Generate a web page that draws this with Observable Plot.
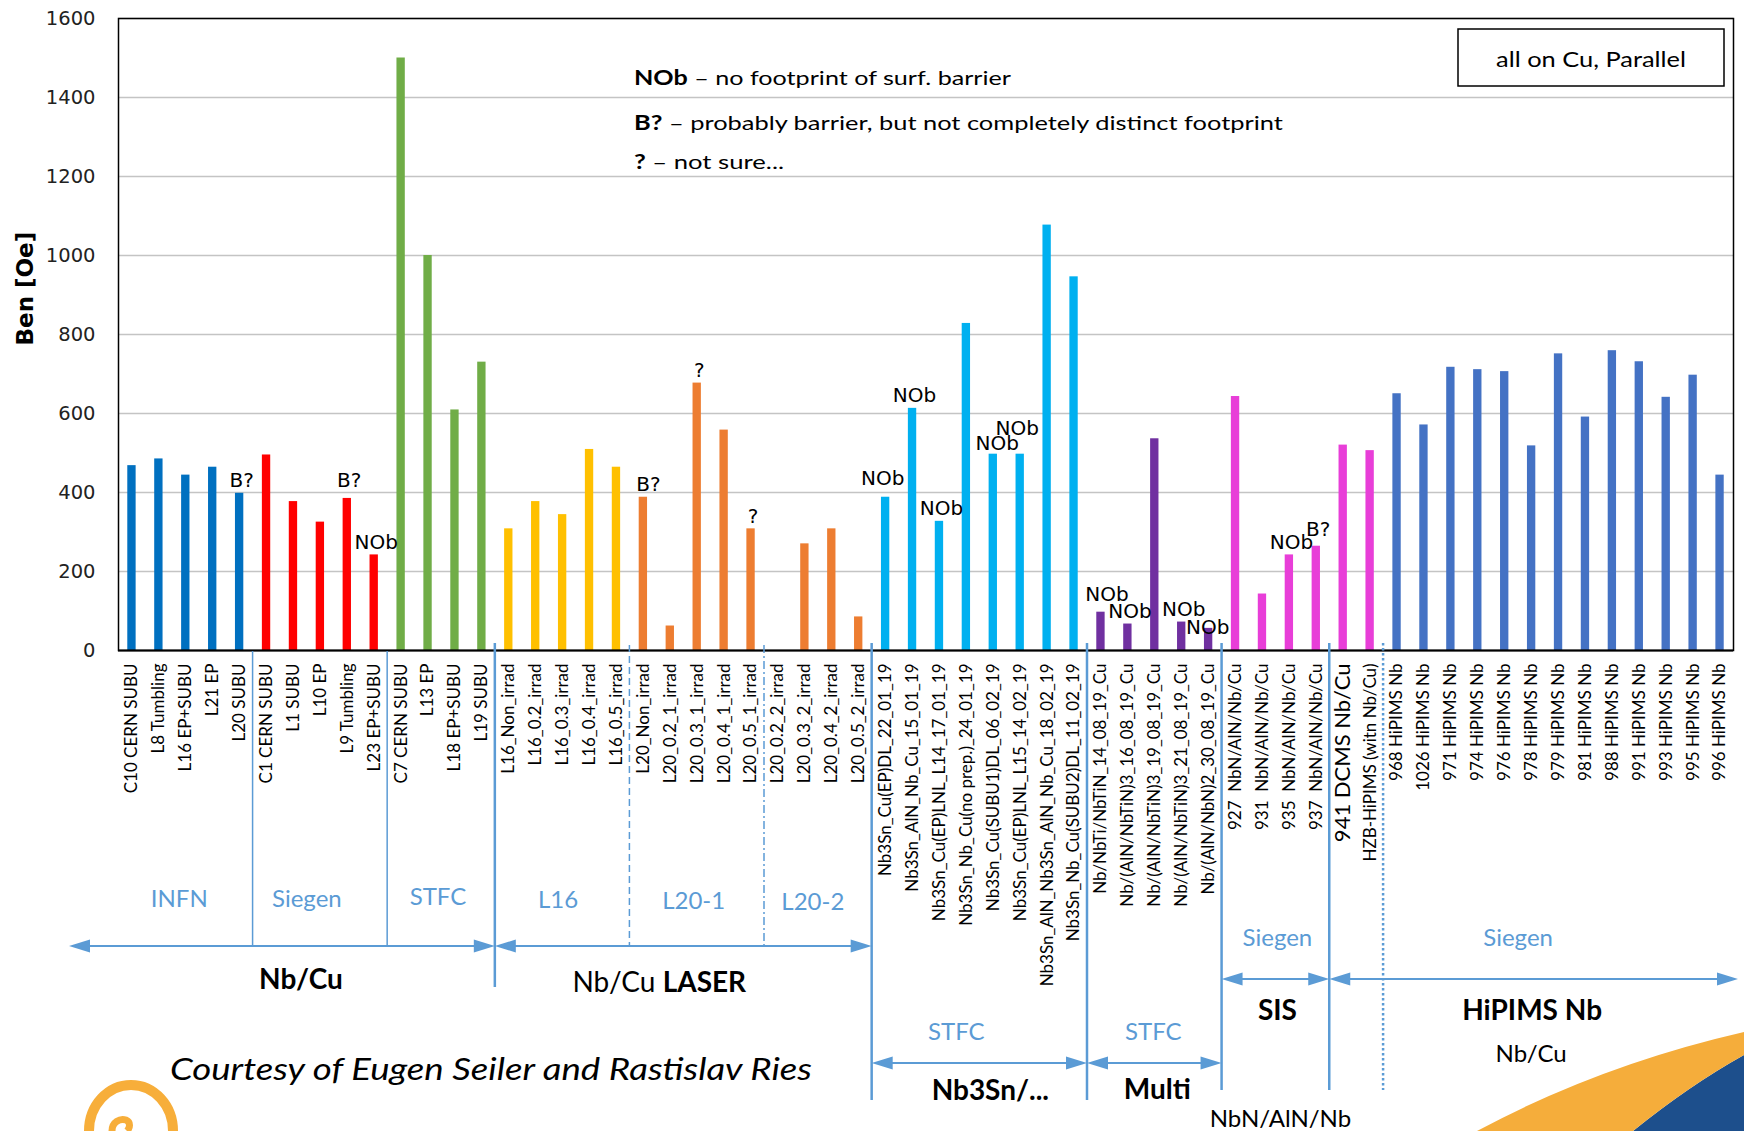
<!DOCTYPE html>
<html>
<head>
<meta charset="utf-8">
<script src="https://cdn.jsdelivr.net/npm/d3@7"></script>
<script src="https://cdn.jsdelivr.net/npm/@observablehq/plot@0.6"></script>
<style>
  html, body { margin: 0; padding: 0; background: #fff; }
  #chart svg { display: block; }
  #chart svg text { white-space: pre; }
</style>
</head>
<body>
<div id="chart"></div>
<script>
// Entry field Ben [Oe] of each sample, all on Cu, parallel field
const infnSamples = ["C10 CERN SUBU", "L8 Tumbling", "L16 EP+SUBU", "L21 EP", "L20 SUBU"];
const infnBen = [468, 485, 444, 464, 398];

const siegenSamples = ["C1 CERN SUBU", "L1 SUBU", "L10 EP", "L9 Tumbling", "L23 EP+SUBU"];
const siegenBen = [495, 377, 325, 385, 242];

const stfcSamples = ["C7 CERN SUBU", "L13 EP", "L18 EP+SUBU", "L19 SUBU"];
const stfcBen = [1500, 1000, 609, 730];

const l16Samples = ["L16_Non_irrad", "L16_0.2_irrad", "L16_0.3_irrad", "L16_0.4_irrad", "L16_0.5_irrad"];
const l16Ben = [308, 377, 344, 509, 464];

const l20aSamples = ["L20_Non_irrad", "L20_0.2_1_irrad", "L20_0.3_1_irrad", "L20_0.4_1_irrad", "L20_0.5_1_irrad"];
const l20aBen = [388, 62, 677, 558, 308];

const l20bSamples = ["L20_0.2_2_irrad", "L20_0.3_2_irrad", "L20_0.4_2_irrad", "L20_0.5_2_irrad"];
const l20bBen = [null, 270, 308, 85];

const nb3snSamples = ["Nb3Sn_Cu(EP)DL_22_01_19", "Nb3Sn_AlN_Nb_Cu_15_01_19", "Nb3Sn_Cu(EP)LNL_L14_17_01_19",
  "Nb3Sn_Nb_Cu(no prep.)_24_01_19", "Nb3Sn_Cu(SUBU1)DL_06_02_19", "Nb3Sn_Cu(EP)LNL_L15_14_02_19",
  "Nb3Sn_AlN_Nb3Sn_AlN_Nb_Cu_18_02_19", "Nb3Sn_Nb_Cu(SUBU2)DL_11_02_19"];
const nb3snBen = [388, 613, 327, 828, 497, 497, 1077, 946];

const multiSamples = ["Nb/NbTi/NbTiN_14_08_19_Cu", "Nb/(AlN/NbTiN)3_16_08_19_Cu", "Nb/(AlN/NbTiN)3_19_08_19_Cu",
  "Nb/(AlN/NbTiN)3_21_08_19_Cu", "Nb/(AlN/NbN)2_30_08_19_Cu"];
const multiBen = [97, 67, 536, 72, 56];

const sisSamples = ["927  NbN/AlN/Nb/Cu", "931  NbN/AlN/Nb/Cu", "935  NbN/AlN/Nb/Cu", "937  NbN/AlN/Nb/Cu"];
const sisBen = [643, 143, 242, 264];

const singleSamples = ["941 DCMS Nb/Cu", "HZB-HiPIMS (witn Nb/Cu)"];
const singleBen = [520, 506];

const hipimsSamples = ["968 HiPIMS Nb", "1026 HiPIMS Nb", "971 HiPIMS Nb", "974 HiPIMS Nb", "976 HiPIMS Nb",
  "978 HiPIMS Nb", "979 HiPIMS Nb", "981 HiPIMS Nb", "988 HiPIMS Nb", "991 HiPIMS Nb", "993 HiPIMS Nb",
  "995 HiPIMS Nb", "996 HiPIMS Nb"];
const hipimsBen = [650, 571, 717, 711, 706, 518, 751, 591, 759, 731, 641, 697, 444];

const seriesNames  = ["INFN", "Siegen", "STFC", "L16", "L20-1", "L20-2", "Nb3Sn", "Multi", "SIS", "Single", "HiPIMS"];
const seriesColors = ["#0070C0", "#FF0000", "#70AD47", "#FFC000", "#ED7D31", "#ED7D31", "#00B0F0", "#7030A0", "#E83ED8", "#E83ED8", "#4472C4"];

// Footprint remarks
const nobSamples = ["L23 EP+SUBU", "Nb3Sn_Cu(EP)DL_22_01_19", "Nb3Sn_AlN_Nb_Cu_15_01_19", "Nb3Sn_Cu(EP)LNL_L14_17_01_19",
  "Nb3Sn_Cu(SUBU1)DL_06_02_19", "Nb3Sn_Cu(EP)LNL_L15_14_02_19", "Nb/NbTi/NbTiN_14_08_19_Cu",
  "Nb/(AlN/NbTiN)3_16_08_19_Cu", "Nb/(AlN/NbTiN)3_21_08_19_Cu", "Nb/(AlN/NbN)2_30_08_19_Cu", "935  NbN/AlN/Nb/Cu"];
const barrierSamples = ["L20 SUBU", "L9 Tumbling", "L20_Non_irrad", "937  NbN/AlN/Nb/Cu"];
const unsureSamples = ["L20_0.3_1_irrad", "L20_0.5_1_irrad"];

const yTicks = [0, 200, 400, 600, 800, 1000, 1200, 1400, 1600];

// ---- table built from the arrays above
const seriesSamples = [infnSamples, siegenSamples, stfcSamples, l16Samples, l20aSamples, l20bSamples,
  nb3snSamples, multiSamples, sisSamples, singleSamples, hipimsSamples];
const seriesBen = [infnBen, siegenBen, stfcBen, l16Ben, l20aBen, l20bBen,
  nb3snBen, multiBen, sisBen, singleBen, hipimsBen];

const rows = seriesNames.flatMap((name, s) =>
  seriesSamples[s].map((sample, i) => ({sample, ben: seriesBen[s][i], series: name})));
const allSamples = rows.map(d => d.sample);
const benOf = new Map(rows.map(d => [d.sample, d.ben]));

const flagRows = [
  ...nobSamples.map(sample => ({sample, flag: "NOb"})),
  ...barrierSamples.map(sample => ({sample, flag: "B?"})),
  ...unsureSamples.map(sample => ({sample, flag: "?"}))
].map(d => ({...d, ben: benOf.get(d.sample)}));

// small nudges so that neighbouring remarks do not collide
const flagNudge = new Map([
  ["L9 Tumbling", [2, -11]],
  ["L20_Non_irrad", [5, -6]],
  ["Nb3Sn_Cu(EP)DL_22_01_19", [-3, -12]],
  ["Nb3Sn_Cu(SUBU1)DL_06_02_19", [4, -4]],
  ["Nb3Sn_Cu(EP)LNL_L15_14_02_19", [-3, -19]],
  ["Nb/NbTi/NbTiN_14_08_19_Cu", [6, -11]],
  ["Nb/(AlN/NbN)2_30_08_19_Cu", [-1, 6]],
  ["937  NbN/AlN/Nb/Cu", [2, -10]]
]);
const nudgeGroups = d3.groups(flagRows, d => (flagNudge.get(d.sample) ?? [2, -6]).join(","));
const flagMarks = nudgeGroups.map(([key, list]) => {
  const [dx, dy] = key.split(",").map(Number);
  return Plot.text(list, {
    x: "sample", y: "ben", text: "flag", lineAnchor: "bottom", dx, dy,
    fontFamily: "DejaVu Sans, sans-serif", fontSize: 20, fill: "#000"
  });
});

const W = 1744, H = 1131;

const chart = Plot.plot({
  width: W, height: H,
  marginTop: 18, marginBottom: 481, marginLeft: 118, marginRight: 11,
  style: {fontFamily: "Lato, sans-serif", background: "#fff"},
  x: {domain: allSamples, paddingInner: 0.69, paddingOuter: 0.345, round: false, axis: null},
  y: {domain: [0, 1600], axis: null},
  color: {domain: seriesNames, range: seriesColors},
  marks: [
    Plot.ruleY(yTicks.slice(1), {stroke: "#c4c4c4", strokeWidth: 1.5}),
    Plot.text(yTicks, {y: d => d, text: d => String(d), frameAnchor: "left", textAnchor: "end", dx: -23,
      fontFamily: "DejaVu Sans, sans-serif", fontSize: 19.5, fill: "#222"}),
    Plot.barY(rows.filter(d => d.ben != null), {x: "sample", y: "ben", fill: "series"}),
    Plot.frame({stroke: "#000", strokeWidth: 1.5}),
    Plot.ruleY([0], {stroke: "#000", strokeWidth: 2}),
    Plot.text(rows, {x: "sample", text: "sample", frameAnchor: "bottom", rotate: -90, textAnchor: "end",
      lineAnchor: "middle", dy: 13, fill: "#000",
      fontSize: d => d.series === "Single" && d.sample.startsWith("941") ? 22 : 17}),
    ...flagMarks,
    Plot.text(["Ben [Oe]"], {frameAnchor: "left", rotate: -90, dx: -93, dy: 11,
      fontFamily: "DejaVu Sans, sans-serif", fontWeight: "bold", fontSize: 23, fill: "#000"})
  ]
});

document.getElementById("chart").appendChild(chart);

// ---- group brackets, separators and notes, placed from the x scale
const sx = chart.scale("x");
const step = sx.apply(allSamples[1]) - sx.apply(allSamples[0]);
const bw = sx.bandwidth ?? step * 0.31;
const gap = (step - bw) / 2;
const firstIdx = name => rows.findIndex(d => d.series === name);
const lastIdx = name => rows.length - 1 - [...rows].reverse().findIndex(d => d.series === name);
const edgeBefore = name => sx.apply(allSamples[firstIdx(name)]) - gap;
const edgeAfter = name => sx.apply(allSamples[lastIdx(name)]) + bw + gap;

const svg = d3.select(chart);
const ann = svg.append("g").attr("font-family", "Lato, sans-serif");
const blue = "#5B9BD5";

// separators
const seps = [
  {after: "INFN",   y1: 651, y2: 946,  w: 1.5},
  {after: "Siegen", y1: 651, y2: 946,  w: 1.5},
  {after: "STFC",   y1: 643, y2: 987,  w: 2.5},
  {after: "L16",    y1: 645, y2: 946,  w: 1.5, dash: "7,4"},
  {after: "L20-1",  y1: 645, y2: 946,  w: 1.5, dash: "8,3,2,3"},
  {after: "L20-2",  y1: 643, y2: 1100, w: 2.5},
  {after: "Nb3Sn",  y1: 643, y2: 1100, w: 2.5},
  {after: "Multi",  y1: 643, y2: 1090, w: 2.5},
  {after: "SIS",    y1: 643, y2: 1090, w: 2.5},
  {after: "Single", y1: 643, y2: 1090, w: 2.5, dash: "2.5,2.5"}
];
for (const s of seps) {
  const x = edgeAfter(s.after);
  ann.append("line").attr("x1", x).attr("x2", x).attr("y1", s.y1).attr("y2", s.y2)
    .attr("stroke", blue).attr("stroke-width", s.w).attr("stroke-dasharray", s.dash ?? null);
}

// double-headed arrows
function arrow(x1, x2, y) {
  const ah = 21, hw = 6.5;
  ann.append("line").attr("x1", x1 + ah - 1).attr("x2", x2 - ah + 1).attr("y1", y).attr("y2", y)
    .attr("stroke", blue).attr("stroke-width", 2);
  ann.append("path").attr("d", `M${x1},${y}L${x1 + ah},${y - hw}L${x1 + ah},${y + hw}Z`).attr("fill", blue);
  ann.append("path").attr("d", `M${x2},${y}L${x2 - ah},${y - hw}L${x2 - ah},${y + hw}Z`).attr("fill", blue);
}
const nbCuLeft = edgeBefore("INFN") - 49;
arrow(nbCuLeft, edgeAfter("STFC"), 946);
arrow(edgeAfter("STFC"), edgeAfter("L20-2"), 946);
arrow(edgeBefore("Nb3Sn"), edgeAfter("Nb3Sn"), 1063);
arrow(edgeBefore("Multi"), edgeAfter("Multi"), 1063);
arrow(edgeBefore("SIS"), edgeAfter("SIS"), 979);
arrow(edgeBefore("Single"), edgeAfter("HiPIMS") + 5, 979);

function label(x, y, parts, o = {}) {
  const t = ann.append("text").attr("x", x).attr("y", y)
    .attr("text-anchor", o.anchor ?? "middle")
    .attr("font-size", o.size ?? 24)
    .attr("fill", o.fill ?? "#000")
    .attr("font-style", o.italic ? "italic" : null);
  if (o.length) t.attr("textLength", o.length).attr("lengthAdjust", "spacingAndGlyphs");
  for (const [s, bold] of parts) t.append("tspan").attr("font-weight", bold ? "bold" : "normal").text(s);
  return t;
}
const mid = (a, b) => (a + b) / 2;

// lab names
const labNames = [
  ["INFN",   "INFN",   "INFN",   -6, 907],
  ["Siegen", "Siegen", "Siegen", -13, 907],
  ["STFC",   "STFC",   "STFC",   -3, 905],
  ["L16",    "L16",    "L16",    -4, 908],
  ["L20-1",  "L20-1",  "L20-1",  -3, 909],
  ["L20-2",  "L20-2",  "L20-2",  -5, 910],
  ["STFC",   "Nb3Sn",  "Nb3Sn",  -23, 1040],
  ["STFC",   "Multi",  "Multi",  -1, 1040],
  ["Siegen", "SIS",    "SIS",    2, 946],
  ["Siegen", "Single", "HiPIMS", -13, 946]
];
for (const [text, a, b, dx, y] of labNames) {
  label(mid(edgeBefore(a), edgeAfter(b)) + dx, y, [[text, false]], {size: 24, fill: blue});
}

// film types
label(mid(nbCuLeft, edgeAfter("STFC")) + 19, 989, [["Nb/Cu", true]], {size: 28});
label(mid(edgeAfter("STFC"), edgeAfter("L20-2")) - 24, 992, [["Nb/Cu ", false], ["LASER", true]], {size: 28});
label(mid(edgeBefore("Nb3Sn"), edgeAfter("Nb3Sn")) + 11, 1100, [["Nb3Sn/...", true]], {size: 28});
label(mid(edgeBefore("Multi"), edgeAfter("Multi")) + 3, 1099, [["Multi", true]], {size: 28});
label(mid(edgeBefore("SIS"), edgeAfter("SIS")) + 2, 1020, [["SIS", true]], {size: 28});
label(mid(edgeBefore("SIS"), edgeAfter("SIS")) + 5, 1127, [["NbN/AlN/Nb", false]], {size: 24});
label(mid(edgeBefore("Single"), edgeAfter("HiPIMS")) + 1, 1020, [["HiPIMS Nb", true]], {size: 28});
label(mid(edgeBefore("Single"), edgeAfter("HiPIMS")), 1062, [["Nb/Cu", false]], {size: 24});

// remark legend
label(634, 85,  [["NOb", true], [" – no footprint of surf. barrier", false]], {anchor: "start", size: 20, length: 377});
label(634, 130, [["B?", true], [" – probably barrier, but not completely distinct footprint", false]], {anchor: "start", size: 20, length: 649});
label(634, 169, [["?", true], [" – not sure...", false]], {anchor: "start", size: 20, length: 150});

// conditions box
ann.append("rect").attr("x", 1458).attr("y", 29).attr("width", 266).attr("height", 57)
  .attr("fill", "#fff").attr("stroke", "#000").attr("stroke-width", 1.5);
label(1591, 67, [["all on Cu, Parallel", false]], {size: 22, length: 190});

// credit
label(170, 1080, [["Courtesy of Eugen Seiler and Rastislav Ries", false]], {anchor: "start", size: 30, italic: true, length: 642});

// slide decorations
const deco = svg.append("g");
deco.append("path").attr("d", "M1633,1131 Q1690,1085 1744,1055 L1744,1131 Z").attr("fill", "#1d4f8c");
deco.append("path").attr("d", "M1477,1131 Q1600,1065 1744,1032 L1744,1055 Q1690,1085 1633,1131 Z").attr("fill", "#f5ad3b");
deco.append("ellipse").attr("cx", 131).attr("cy", 1131).attr("rx", 42).attr("ry", 46)
  .attr("fill", "none").attr("stroke", "#f7ae3a").attr("stroke-width", 10);
deco.append("path").attr("d", "M112,1131 C112,1122 120,1118 126,1120 C131,1122 130,1128 127,1131")
  .attr("fill", "none").attr("stroke", "#f7ae3a").attr("stroke-width", 7);
</script>
</body>
</html>
